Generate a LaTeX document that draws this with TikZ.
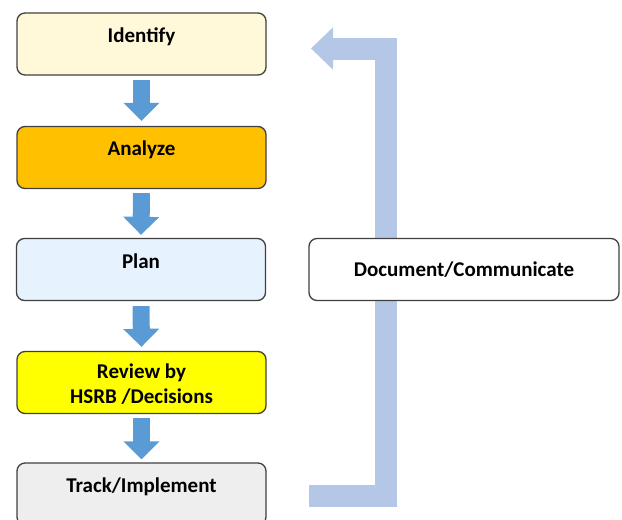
\documentclass[tikz,border=0pt]{standalone}
\usepackage{fontspec}
\setmainfont{Carlito}
\usetikzlibrary{arrows.meta}
\definecolor{cIdf}{HTML}{FFF9DA}
\definecolor{cAna}{HTML}{FFC000}
\definecolor{cPln}{HTML}{E6F2FD}
\definecolor{cRev}{HTML}{FFFF00}
\definecolor{cTrk}{HTML}{EEEEEE}
\definecolor{cEdge}{HTML}{404040}
\definecolor{cDown}{HTML}{5B9BD5}
\definecolor{cLoop}{HTML}{B4C7E7}
\tikzset{
  box/.style={draw=cEdge, line width=1.3pt, rounded corners=8pt, minimum width=249pt, minimum height=62pt, inner sep=0pt},
  lbl/.style={font=\fontsize{21}{25}\selectfont\bfseries, align=center, text=black},
  downarr/.style={draw=cDown, line width=17pt, -{Triangle[width=35pt,length=18pt]}},
  looparr/.style={draw=cLoop, line width=22pt, line join=miter, -{Triangle[width=41pt,length=22pt]}}
}
\begin{document}
\begin{tikzpicture}[x=1pt,y=-1pt]
\useasboundingbox (0,0) rectangle (622,520);
% feedback loop
\coordinate (lstart) at (309,495.5);
\coordinate (lend) at (311,48.5);
\draw[looparr] (lstart) -- (386,495.5) -- (386,48.5) -- (lend);
% boxes
\node[box, fill=cIdf, label={[lbl, yshift=7pt]center:Identify}] (idf) at (141.5,44) {};
\node[box, fill=cAna, label={[lbl, yshift=7.5pt]center:Analyze}] (ana) at (141.5,157.5) {};
\node[box, fill=cPln, label={[lbl, yshift=8.5pt]center:Plan}] (pln) at (141,269.5) {};
\node[box, fill=cRev, label={[lbl, yshift=-2pt]center:Review by\\HSRB /Decisions}] (rev) at (141.5,382.5) {};
\node[box, fill=cTrk, label={[lbl, yshift=7pt]center:Track/Implement}] (trk) at (141.5,494) {};
\node[box, fill=white, minimum width=310pt, lbl] (doc) at (464,269.5) {Document/Communicate};
% down arrows
\draw[downarr] ([yshift=-4pt]idf.south) -- ([yshift=5pt]ana.north);
\draw[downarr] ([yshift=-4pt]ana.south) -- ([yshift=3pt]pln.north);
\draw[downarr] ([yshift=-5pt]pln.south) -- ([yshift=4pt]rev.north);
\draw[downarr] ([yshift=-4pt]rev.south) -- ([yshift=3pt]trk.north);
\end{tikzpicture}
\end{document}
